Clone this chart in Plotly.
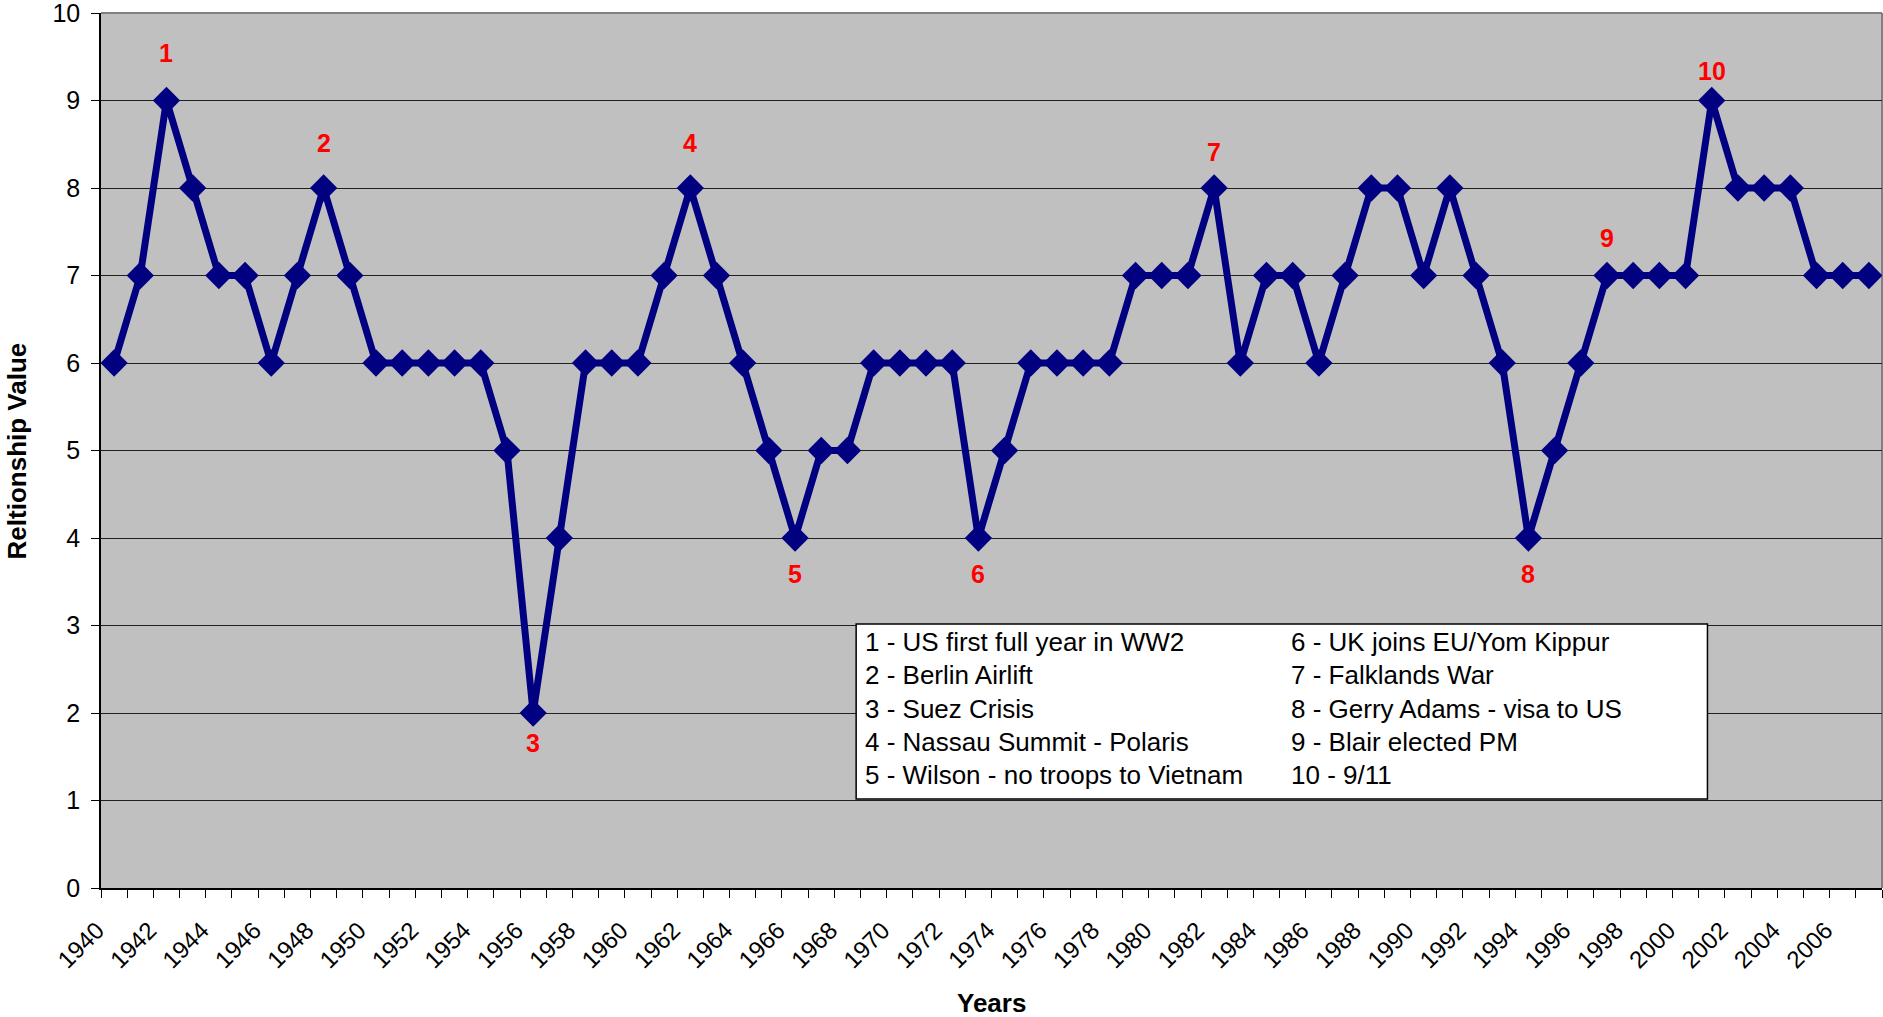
import plotly.graph_objects as go

years = list(range(1940, 2008))
values = [6, 7, 9, 8, 7, 7, 6, 7, 8, 7,
          6, 6, 6, 6, 6, 5, 2, 4, 6, 6,
          6, 7, 8, 7, 6, 5, 4, 5, 5, 6,
          6, 6, 6, 4, 5, 6, 6, 6, 6, 7,
          7, 7, 8, 6, 7, 7, 6, 7, 8, 8,
          7, 8, 7, 6, 4, 5, 6, 7, 7, 7,
          7, 9, 8, 8, 8, 7, 7, 7]

event_years = [1942, 1948, 1956, 1962, 1966, 1973, 1982, 1994, 1997, 2001]
event_labels = ["1", "2", "3", "4", "5", "6", "7", "8", "9", "10"]

legend_left = ["1 - US first full year in WW2", "2 - Berlin Airlift", "3 - Suez Crisis",
               "4 - Nassau Summit - Polaris", "5 - Wilson - no troops to Vietnam"]
legend_right = ["6 - UK joins EU/Yom Kippur", "7 - Falklands War", "8 - Gerry Adams - visa to US",
                "9 - Blair elected PM", "10 - 9/11"]

x_title = "Years"
y_title = "Reltionship Value"

tick_years = list(range(1940, 2008, 2))
y_ticks = list(range(0, 11))
boundaries = [y - 0.5 for y in range(1940, 2009)]

FONT = "Arial, Liberation Sans, sans-serif"
NAVY = "#000080"

# pixel offsets of event labels from their points (style only)
label_shift = [48, 45, -30, 45, -36, -36, 36, -36, 38, 30]

fig = go.Figure()
fig.add_trace(go.Scatter(
    x=years, y=values, mode="lines+markers",
    line=dict(color=NAVY, width=7),
    marker=dict(symbol="diamond", size=21, color=NAVY),
    showlegend=False, hoverinfo="x+y"))

val_by_year = dict(zip(years, values))
annotations = []
for yr, lab, sh in zip(event_years, event_labels, label_shift):
    annotations.append(dict(
        x=yr, y=val_by_year[yr], xref="x", yref="y", text="<b>" + lab + "</b>",
        showarrow=False, yshift=sh, font=dict(family=FONT, size=25, color="#FF0000")))

# legend-like text box
box_x0, box_x1, box_y0, box_y1 = 0.424, 0.902, 0.1017, 0.3017
row_top, row_step = 0.281, 0.038
for i, (l, r) in enumerate(zip(legend_left, legend_right)):
    yy = row_top - i * row_step
    annotations.append(dict(x=0.428, y=yy, xref="paper", yref="paper", text=l,
                            showarrow=False, xanchor="left", yanchor="middle",
                            font=dict(family=FONT, size=26, color="black")))
    annotations.append(dict(x=0.6668, y=yy, xref="paper", yref="paper", text=r,
                            showarrow=False, xanchor="left", yanchor="middle",
                            font=dict(family=FONT, size=26, color="black")))

# axis titles
annotations.append(dict(x=0.5, y=-0.1314, xref="paper", yref="paper", text="<b>" + x_title + "</b>",
                        showarrow=False, xanchor="center", yanchor="middle",
                        font=dict(family=FONT, size=26, color="black")))
annotations.append(dict(x=-0.0472, y=0.5, xref="paper", yref="paper", text="<b>" + y_title + "</b>",
                        showarrow=False, xanchor="center", yanchor="middle", textangle=-90,
                        font=dict(family=FONT, size=26, color="black")))

shapes = [
    dict(type="rect", xref="paper", yref="paper", x0=box_x0, x1=box_x1, y0=box_y0, y1=box_y1,
         fillcolor="white", line=dict(color="black", width=1.5), layer="above"),
    dict(type="line", xref="paper", yref="paper", x0=0, x1=1, y0=1, y1=1,
         line=dict(color="#808080", width=2), layer="between"),
    dict(type="line", xref="paper", yref="paper", x0=1, x1=1, y0=0, y1=1,
         line=dict(color="#808080", width=2), layer="between"),
]

fig.update_layout(
    width=1883, height=1017,
    margin=dict(l=101, r=1, t=13, b=129),
    paper_bgcolor="white", plot_bgcolor="#C0C0C0",
    font=dict(family=FONT, color="black"),
    annotations=annotations, shapes=shapes,
    xaxis=dict(
        range=[1939.5, 2007.5], tickmode="array", tickvals=tick_years,
        ticktext=[str(t) for t in tick_years], tickangle=-45,
        tickfont=dict(family=FONT, size=24, color="black"),
        ticklabelshift=-17, ticklabelstandoff=17, ticklabeloverflow="allow",
        ticks="outside", ticklen=0, showgrid=False, zeroline=False,
        showline=True, linecolor="black", linewidth=1.5, automargin=False,
        minor=dict(tickmode="array", tickvals=boundaries, ticks="outside",
                   ticklen=8, tickcolor="black", tickwidth=1, showgrid=False),
    ),
    yaxis=dict(
        range=[0, 10], tickmode="array", tickvals=y_ticks,
        ticktext=[str(v) for v in y_ticks],
        tickfont=dict(family=FONT, size=25, color="black"),
        ticklabelstandoff=6, ticklabeloverflow="allow",
        ticks="outside", ticklen=8, tickcolor="black", automargin=False,
        showgrid=True, gridcolor="#202020", gridwidth=1, zeroline=False,
        showline=True, linecolor="black", linewidth=1.5,
    ),
)

fig.write_html("out.html", config={"displayModeBar": False},
               post_script="document.body.style.margin='0';document.body.style.overflow='hidden';")
